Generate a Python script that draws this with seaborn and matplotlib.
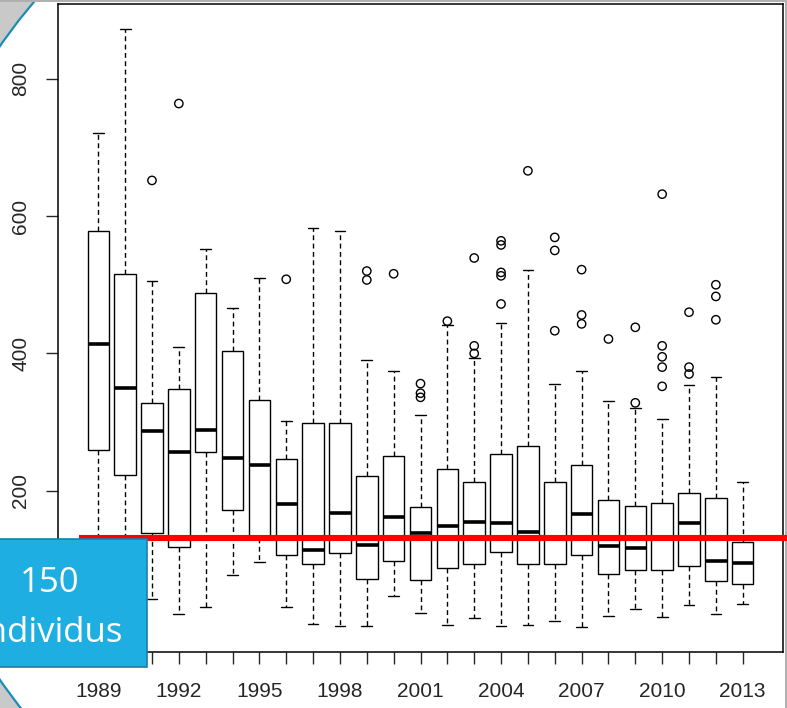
import pandas as pd
import matplotlib.pyplot as plt
import seaborn as sns
from matplotlib.patches import Circle, Rectangle

# five-number summaries, one entry per year
years = list(range(1989, 2014))
lower_whisker = [70, 55, 42, 20, 30, 77, 96, 30, 6, 3, 3, 46, 22, 4, 15, 3, 4, 10, 1, 18, 28, 16, 34, 20, 35]
q1 = [259, 223, 139, 118, 257, 172, 131, 107, 93, 109, 71, 98, 70, 87, 93, 111, 93, 93, 107, 79, 84, 85, 91, 68, 64]
median = [414, 350, 287, 257, 288, 247, 237, 180, 113, 167, 121, 161, 139, 149, 154, 153, 140, 131, 166, 119, 117, 130, 153, 97, 95]
q3 = [579, 516, 328, 348, 488, 403, 332, 246, 299, 299, 221, 251, 176, 232, 213, 253, 265, 213, 237, 186, 178, 182, 196, 190, 125]
upper_whisker = [721, 872, 506, 409, 552, 466, 510, 301, 582, 579, 391, 375, 310, 442, 394, 445, 521, 356, 375, 330, 321, 304, 354, 365, 212]

outlier_years = [1991, 1992, 1996, 1999, 1999, 2000, 2001, 2001, 2001, 2002,
                 2003, 2003, 2003, 2004, 2004, 2004, 2004, 2004, 2005,
                 2006, 2006, 2006, 2007, 2007, 2007, 2008, 2009, 2009,
                 2010, 2010, 2010, 2010, 2010, 2011, 2011, 2011, 2012, 2012, 2012]
outlier_values = [652, 764, 508, 520, 507, 516, 356, 342, 336, 447,
                  539, 411, 400, 564, 558, 518, 513, 472, 666,
                  569, 550, 433, 522, 456, 443, 421, 438, 328,
                  632, 411, 395, 380, 352, 460, 380, 370, 500, 483, 449]

threshold = 131
box_lines = ['150', 'individus']
tick_labels = [str(y) if (y - 1989) % 3 == 0 else '' for y in years]
yticks = [200, 400, 600, 800]

sns.set_style('ticks')
plt.rcParams['font.family'] = ['Liberation Sans', 'DejaVu Sans']

# long table: each year's summary values
rows = []
for i, y in enumerate(years):
    for v in (lower_whisker[i], q1[i], median[i], q3[i], upper_whisker[i]):
        rows.append({'year': str(y), 'value': v})
df = pd.DataFrame(rows)
order = [str(y) for y in years]
out_df = pd.DataFrame({'year': [str(y) for y in outlier_years], 'value': outlier_values})

fig = plt.figure(figsize=(7.87, 7.08), dpi=100, facecolor='#c9c9c9')

# slide background: big white disc with teal rim
bg = fig.add_axes([0, 0, 1, 1], zorder=-1)
bg.set_xlim(0, 787)
bg.set_ylim(708, 0)
bg.axis('off')
bg.add_patch(Circle((458, 363), 557, facecolor='white', edgecolor='#1b8db5', linewidth=1.6))
# thin grey slide edge along top and right
bg.add_patch(Rectangle((0, 0), 787, 2, facecolor='#b0b0b0', edgecolor='none'))
bg.add_patch(Rectangle((785, 0), 2, 708, facecolor='#b0b0b0', edgecolor='none'))

ax = fig.add_axes([58 / 787, 56 / 708, 725 / 787, 648 / 708])
ax.set_facecolor('white')
sns.boxplot(data=df, x='year', y='value', order=order, ax=ax,
            whis=(0, 100), showfliers=False, width=0.8, saturation=1,
            color='white', linecolor='black', linewidth=1,
            medianprops={'linewidth': 2.6},
            whiskerprops={'linestyle': (0, (3.5, 2.5))})
sns.stripplot(data=out_df, x='year', y='value', order=order, ax=ax,
              jitter=False, color='black', edgecolor='black',
              facecolors='none', linewidth=1, size=6)

ax.plot([-0.73, 26], [threshold, threshold], color='red', linewidth=4.4,
        solid_capstyle='butt', clip_on=False, zorder=6)

ax.set_xlim(-1.5, 25.5)
ax.set_ylim(-35, 909)
ax.set_xticks(range(len(years)))
ax.set_xticklabels(tick_labels, fontsize=15)
ax.set_yticks(yticks)
ax.set_yticklabels([str(t) for t in yticks], fontsize=15, rotation=90, va='center')
ax.tick_params(axis='x', length=8.5, width=1, pad=13)
ax.tick_params(axis='y', length=9, width=1, pad=11)
ax.set_xlabel('')
ax.set_ylabel('')
for s in ax.spines.values():
    s.set_linewidth(1.1)
    s.set_color('black')

# blue label box on top
fg = fig.add_axes([0, 0, 1, 1], zorder=10)
fg.set_xlim(0, 787)
fg.set_ylim(708, 0)
fg.axis('off')
fg.patch.set_alpha(0)
fg.add_patch(Rectangle((-5, 539), 151.5, 127.5, facecolor='#1faee2', edgecolor='#1a7fae', linewidth=1.2))
fg.text(50, 591.7, box_lines[0], color='white', fontsize=25, ha='center', va='baseline', family=['Open Sans', 'DejaVu Sans'])
fg.text(123, 641.7, box_lines[1], color='white', fontsize=25, ha='right', va='baseline', family=['Open Sans', 'DejaVu Sans'])

fig.savefig('out.png', dpi=100, facecolor=fig.get_facecolor())
